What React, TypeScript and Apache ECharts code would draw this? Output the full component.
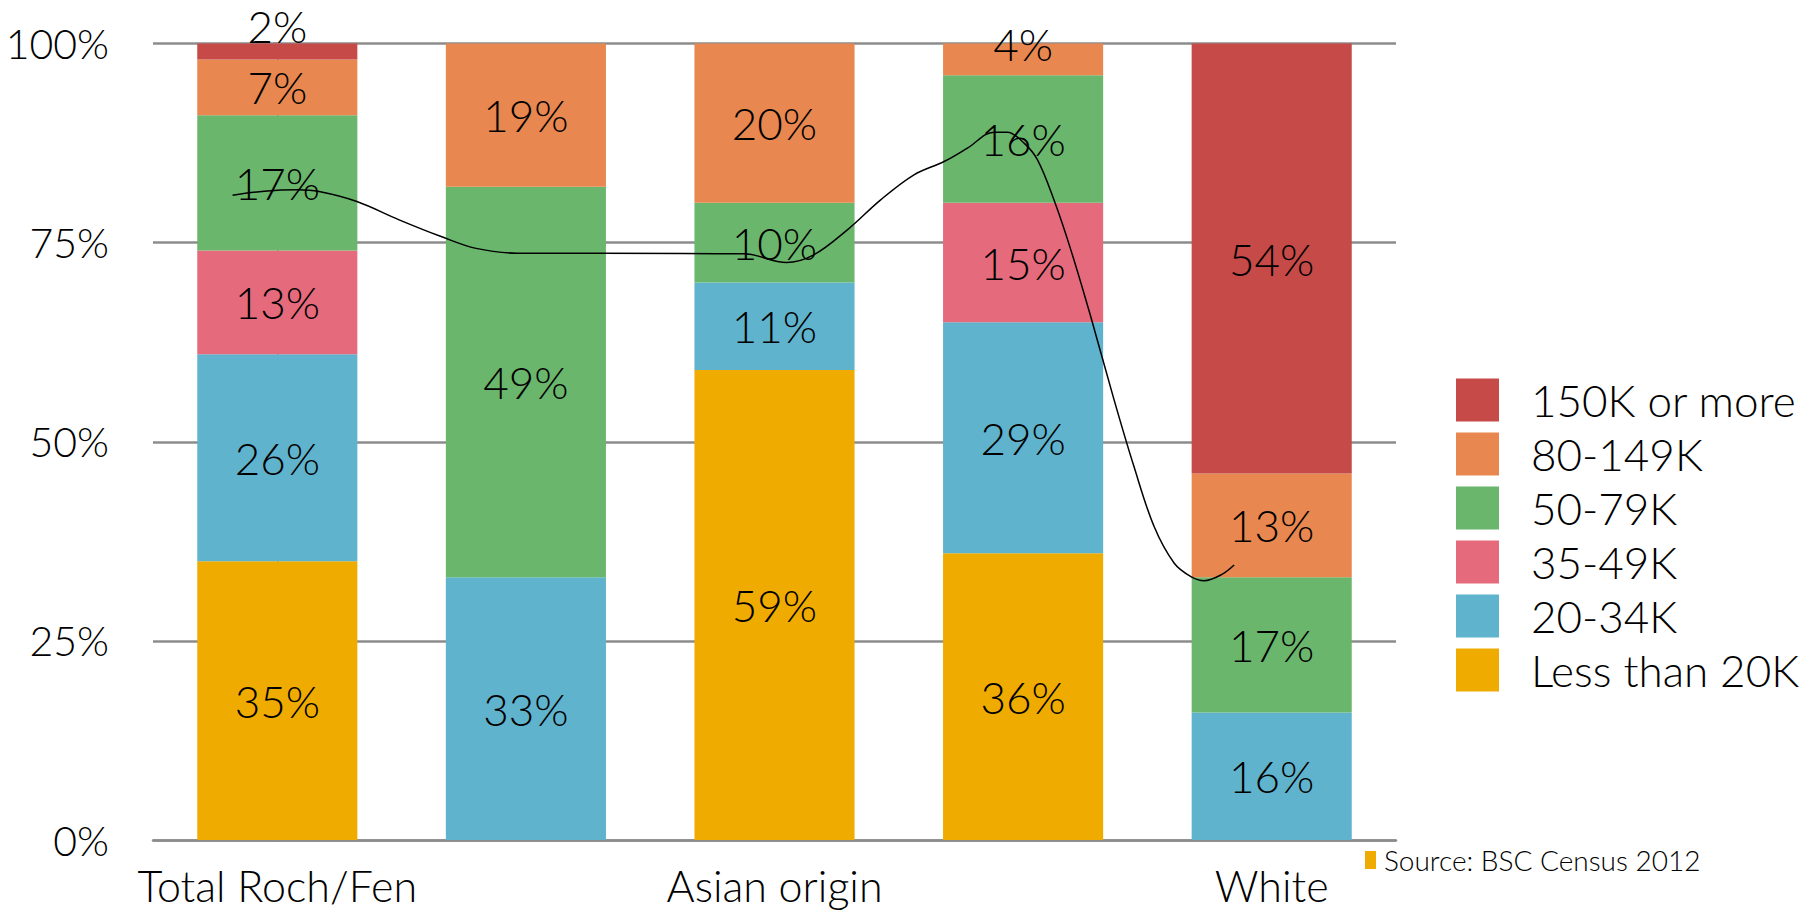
import React, { useEffect, useRef } from "react";
import * as echarts from "echarts";

// Groups along the x axis (every other name is printed)
const groups = ["Total Roch/Fen", "Black origin", "Asian origin", "Mixed origin", "White"];

// Income bands, bottom of the stack first
const bands = ["Less than 20K", "20-34K", "35-49K", "50-79K", "80-149K", "150K or more"];

// Share of each group per income band, in percent (null = band absent)
const lessThan20K = [35, null, 59, 36, null];
const from20to34K = [26, 33, 11, 29, 16];
const from35to49K = [13, null, null, 15, null];
const from50to79K = [17, 49, 10, 16, 17];
const from80to149K = [7, 19, 20, 4, 13];
const over150K = [2, null, null, null, 54];

const bandValues = [lessThan20K, from20to34K, from35to49K, from50to79K, from80to149K, over150K];
const bandColors = ["#F0AB00", "#60B3CC", "#E56A7C", "#6BB66D", "#E8874F", "#C54A48"];

// Freehand trend curve: position along the groups (0 = first group) and height in percent
const trendX = [
  -0.18, -0.052, 0.083, 0.168, 0.32, 0.49, 0.659, 0.795, 0.964, 1.303, 1.879, 2.048, 2.158,
  2.293, 2.427, 2.561, 2.682, 2.776, 2.883, 2.937, 3.004, 3.058, 3.124, 3.192, 3.272, 3.366,
  3.446, 3.527, 3.608, 3.675, 3.728, 3.796, 3.849,
];
const trendY = [
  80.96, 81.46, 81.63, 81.41, 80.16, 77.86, 75.76, 74.31, 73.68, 73.68, 73.59, 72.5, 73.46,
  76.6, 80.37, 83.51, 85.18, 86.86, 88.87, 88.87, 87.49, 85.39, 80.37, 74.09, 65.72, 55.26,
  46.88, 39.35, 34.75, 33.07, 32.56, 33.28, 34.53,
];

const sourceNote = "Source: BSC Census 2012";

const FONT = "Lato, 'Noto Sans', sans-serif";
const GRID_GREY = "#8C8C8C";

export default function App() {
  const ref = useRef<HTMLDivElement>(null);

  useEffect(() => {
    if (!ref.current) return;
    const chart = echarts.init(ref.current, null, { renderer: "svg" });

    const barSeries = bands.map((name, i) => ({
      name,
      type: "bar",
      stack: "share",
      barWidth: "64.4%",
      clip: true,
      itemStyle: { color: bandColors[i] },
      emphasis: { disabled: true },
      label: {
        show: true,
        position: "inside",
        color: "#000",
        fontSize: 44,
        fontFamily: FONT,
        fontWeight: 300,
        formatter: (p: any) => `${p.value}%`,
      },
      data: bandValues[i].map((v, j) => {
        // the thinnest top slices carry their label a little higher
        if (v !== null && v <= 4 && i === bands.length - 1) {
          return { value: v, label: { offset: [0, -25] } };
        }
        if (v !== null && v <= 4 && i === bands.length - 2 && over150K[j] === null) {
          return { value: v, label: { offset: [0, -15] } };
        }
        return v;
      }),
    }));

    chart.setOption({
      animation: false,
      backgroundColor: "#fff",
      textStyle: { fontFamily: FONT },
      grid: {
        left: 153,
        right: 408,
        top: 43.5,
        bottom: 75,
        containLabel: false,
        outerBoundsMode: "none",
      },
      legend: {
        orient: "vertical",
        left: 1456,
        top: 378,
        padding: 0,
        itemWidth: 43,
        itemHeight: 43,
        itemGap: 10,
        icon: "rect",
        selectedMode: false,
        data: [...bands].reverse(),
        textStyle: {
          fontSize: 44,
          fontFamily: FONT,
          fontWeight: 300,
          color: "#000",
          lineHeight: 43,
          padding: [0, 0, 0, 27],
        },
      },
      xAxis: [
        {
          type: "category",
          data: groups,
          axisLine: { lineStyle: { color: GRID_GREY, width: 2.5 } },
          axisTick: { show: false },
          axisLabel: {
            interval: 1,
            fontSize: 43,
            fontFamily: FONT,
            fontWeight: 300,
            color: "#000",
            margin: 24,
          },
        },
        { type: "value", min: -0.5, max: 4.5, show: false },
      ],
      yAxis: {
        type: "value",
        min: 0,
        max: 100,
        interval: 25,
        axisLine: { show: true, lineStyle: { color: "#A0A0A0", width: 2 } },
        axisTick: { show: true, length: 4, lineStyle: { color: GRID_GREY, width: 2.5 } },
        splitLine: { lineStyle: { color: GRID_GREY, width: 2.5 } },
        axisLabel: {
          formatter: "{value}%",
          fontSize: 41,
          fontFamily: FONT,
          fontWeight: 300,
          color: "#000",
          margin: 44,
        },
      },
      series: [
        ...barSeries,
        {
          name: "trend",
          type: "line",
          xAxisIndex: 1,
          smooth: 0.35,
          symbol: "none",
          z: 5,
          lineStyle: { color: "#000", width: 1.5 },
          emphasis: { disabled: true },
          data: trendX.map((x, i) => [x, trendY[i]]),
        },
      ],
      graphic: [
        {
          type: "rect",
          left: 1365,
          top: 851,
          shape: { width: 11, height: 18 },
          style: { fill: "#F0AB00" },
        },
        {
          type: "text",
          left: 1384,
          top: 846,
          style: {
            text: sourceNote,
            fontSize: 28,
            fontFamily: FONT,
            fontWeight: 300,
            fill: "#000",
          },
        },
      ],
    });

    return () => chart.dispose();
  }, []);

  return (
    <div
      ref={ref}
      style={{ position: "fixed", left: 0, top: 0, width: 1804, height: 915, background: "#fff" }}
    />
  );
}
